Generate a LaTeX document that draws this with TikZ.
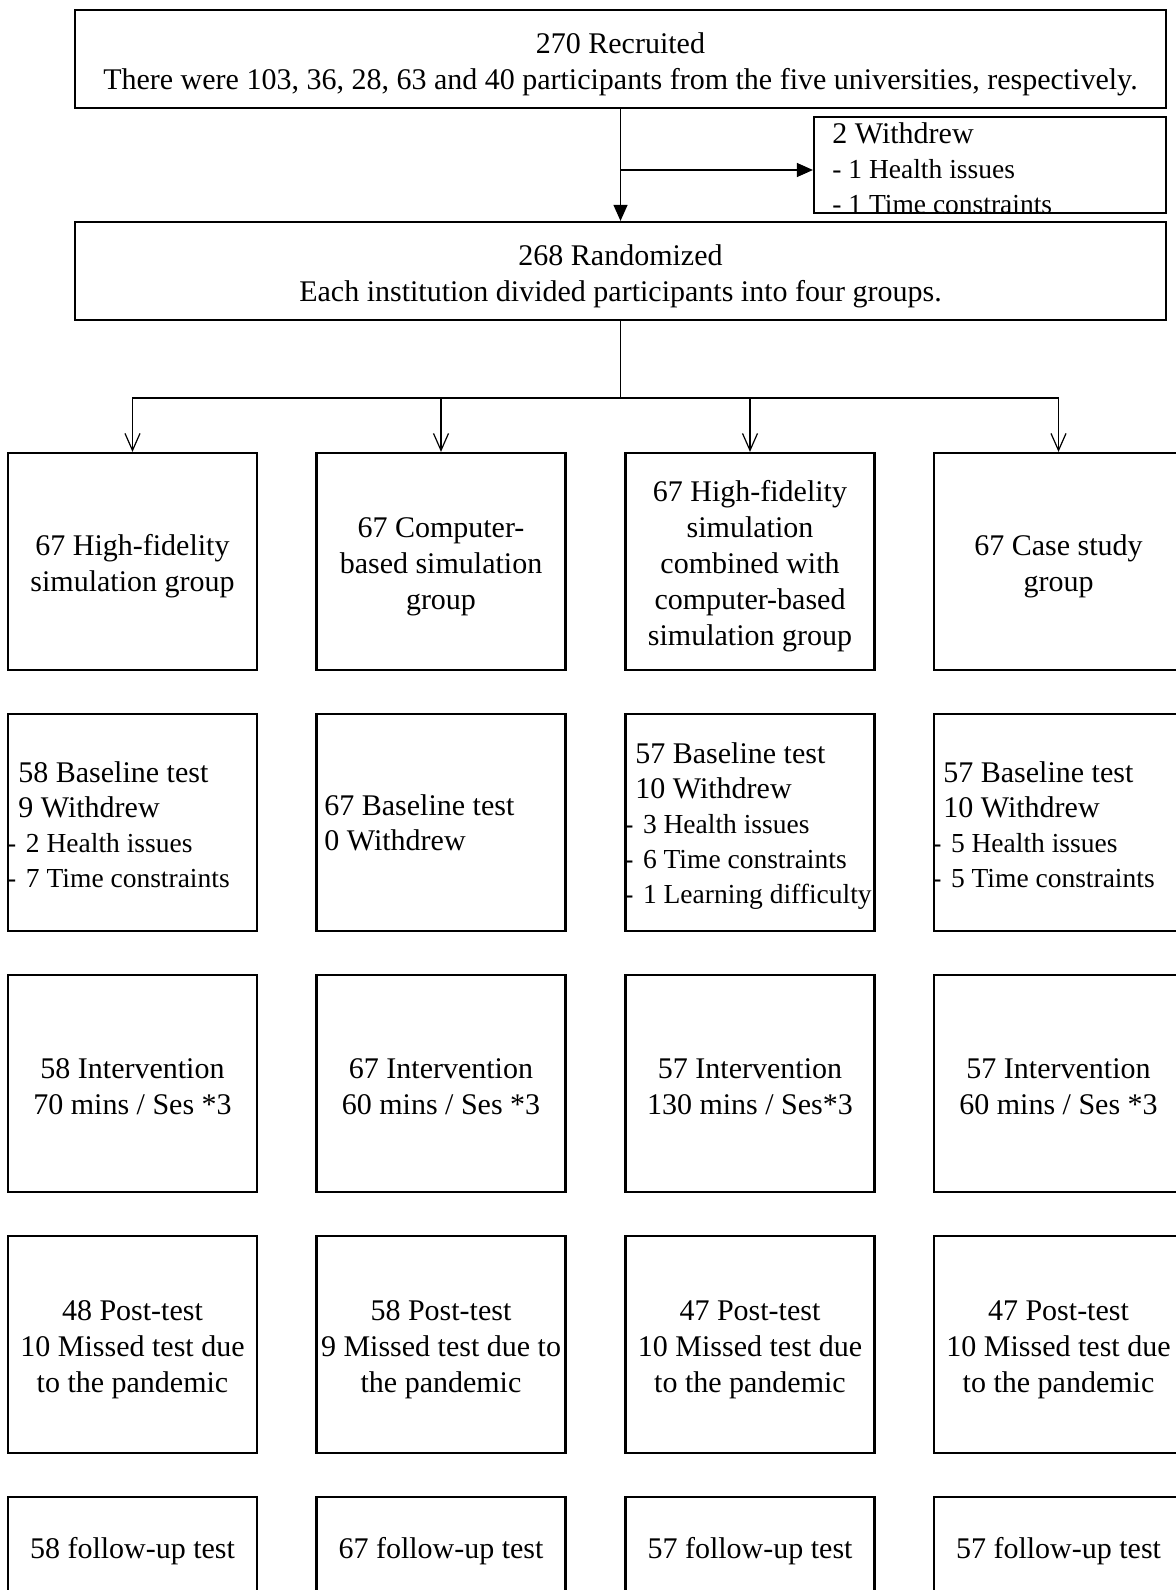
\documentclass[tikz,border=0pt]{standalone}
\usepackage{fontspec}
\setmainfont{Liberation Serif}
\usetikzlibrary{arrows.meta}
\newcommand\smallline[1]{{\fontsize{13.75}{17.5}\selectfont #1}}
\newcommand\bulletline[1]{\hspace*{3.8pt}{\fontsize{13.75}{17.5}\selectfont\llap{-\hspace{4.8pt}}#1}}
\begin{document}
\begin{tikzpicture}[x=0.5pt,y=-0.5pt,
  box/.style={draw,line width=1.1pt,minimum width=124.5pt,minimum height=108.5pt,inner sep=0pt},
  wide/.style={draw,line width=1.1pt,minimum width=545.5pt,minimum height=49pt,inner sep=0pt},
  wdbox/.style={draw,line width=1.1pt,minimum width=176pt,minimum height=48pt,inner sep=0pt},
  txt/.style={align=center,inner sep=0pt,yshift=-2.5pt,font=\fontsize{15}{18}\selectfont},
  ltxt/.style={align=left,inner sep=0pt,anchor=west,font=\fontsize{15}{17.5}\selectfont},
  conn/.style={line width=0.6pt},
  openarrow/.style={conn,-{Straight Barb[length=8.5pt,width=7.5pt]}},
  fillarrow/.style={conn,-{Triangle[length=8pt,width=7pt]}}
]
\useasboundingbox (0,0) rectangle (1176,1590);

% top boxes
\node[wide] (rec) at (620.5,59) {};
\node[txt] (rect) at (rec.center) {270 Recruited\\There were 103, 36, 28, 63 and 40 participants from the five universities, respectively.};
\node[wdbox] (wd) at (990,165) {};
\node[ltxt] (wdt) at (832,168) {2 Withdrew\\\smallline{- 1 Health issues}\\\smallline{- 1 Time constraints}};
\node[wide] (ran) at (620.5,271) {};
\node[txt] (rant) at (ran.center) {268 Randomized\\Each institution divided participants into four groups.};

% row 1
\node[box] (b11) at (132.5,561.5) {};
\node[box] (b12) at (441,561.5) {};
\node[box] (b13) at (750,561.5) {};
\node[box] (b14) at (1058.5,561.5) {};
\node[txt] (t11) at (b11.center) {67 High-fidelity\\simulation group};
\node[txt] (t12) at (b12.center) {67 Computer-\\based simulation\\group};
\node[txt] (t13) at (b13.center) {67 High-fidelity\\simulation\\combined with\\computer-based\\simulation group};
\node[txt] (t14) at (b14.center) {67 Case study\\group};

% row 2
\node[box] (b21) at (132.5,822.5) {};
\node[box] (b22) at (441,822.5) {};
\node[box] (b23) at (750,822.5) {};
\node[box] (b24) at (1058.5,822.5) {};
\node[ltxt] (t21) at (18,825) {58 Baseline test\\9 Withdrew\\\bulletline{2 Health issues}\\\bulletline{7 Time constraints}};
\node[ltxt] (t22) at (324,823) {67 Baseline test\\0 Withdrew};
\node[ltxt] (t23) at (635,826) {57 Baseline test\\10 Withdrew\\\bulletline{3 Health issues}\\\bulletline{6 Time constraints}\\\bulletline{1 Learning difficulty}};
\node[ltxt] (t24) at (943,825) {57 Baseline test\\10 Withdrew\\\bulletline{5 Health issues}\\\bulletline{5 Time constraints}};

% row 3
\node[box] (b31) at (132.5,1083.5) {};
\node[box] (b32) at (441,1083.5) {};
\node[box] (b33) at (750,1083.5) {};
\node[box] (b34) at (1058.5,1083.5) {};
\node[txt,yshift=1pt] (t31) at (b31.center) {58 Intervention\\70 mins / Ses *3};
\node[txt,yshift=1pt] (t32) at (b32.center) {67 Intervention\\60 mins / Ses *3};
\node[txt,yshift=1pt] (t33) at (b33.center) {57 Intervention\\130 mins / Ses*3};
\node[txt,yshift=1pt] (t34) at (b34.center) {57 Intervention\\60 mins / Ses *3};

% row 4
\node[box] (b41) at (132.5,1344.5) {};
\node[box] (b42) at (441,1344.5) {};
\node[box] (b43) at (750,1344.5) {};
\node[box] (b44) at (1058.5,1344.5) {};
\node[txt] (t41) at (b41.center) {48 Post-test\\10 Missed test due\\to the pandemic};
\node[txt] (t42) at (b42.center) {58 Post-test\\9 Missed test due to\\the pandemic};
\node[txt] (t43) at (b43.center) {47 Post-test\\10 Missed test due\\to the pandemic};
\node[txt] (t44) at (b44.center) {47 Post-test\\10 Missed test due\\to the pandemic};

% row 5
\node[box] (b51) at (132.5,1605.5) {};
\node[box] (b52) at (441,1605.5) {};
\node[box] (b53) at (750,1605.5) {};
\node[box] (b54) at (1058.5,1605.5) {};
\node[txt,yshift=1pt] (t51) at (132.5,1548) {58 follow-up test};
\node[txt,yshift=1pt] (t52) at (441,1548) {67 follow-up test};
\node[txt,yshift=1pt] (t53) at (750,1548) {57 follow-up test};
\node[txt,yshift=1pt] (t54) at (1058.5,1548) {57 follow-up test};

% connectors
\coordinate (j1) at (620.5,170);
\coordinate (j2) at (620.5,398);
\draw[fillarrow] (rec.south) -- (ran.north);
\draw[fillarrow] (j1) -- (j1 -| wd.west);
\draw[conn] (ran.south) -- (j2);
\draw[openarrow] (j2) -| (b11.north);
\draw[openarrow] (j2) -| (b12.north);
\draw[openarrow] (j2) -| (b13.north);
\draw[openarrow] (j2) -| (b14.north);
\end{tikzpicture}
\end{document}
